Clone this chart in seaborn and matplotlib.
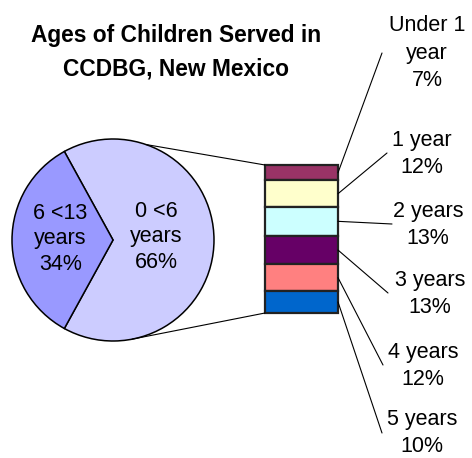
import matplotlib
matplotlib.use("Agg")
import numpy as np
import matplotlib.pyplot as plt
import seaborn as sns
from matplotlib.patches import ConnectionPatch

# --- datos ---
pie_labels = ["0 <6\nyears", "6 <13\nyears"]
pie_values = [66, 34]
pie_colors = ["#CCCCFF", "#9999FF"]

bar_labels = ["Under 1\nyear", "1 year", "2 years", "3 years", "4 years", "5 years"]
bar_values = [7, 12, 13, 13, 12, 10]
bar_colors = ["#993366", "#FFFFCC", "#CCFFFF", "#660066", "#FF8080", "#0066CC"]

titulo = "Ages of Children Served in\nCCDBG, New Mexico"

sns.set_theme(style="white")
plt.rcParams["font.family"] = ["Liberation Sans", "DejaVu Sans"]

W, H = 472, 458
fig = plt.figure(figsize=(W / 100, H / 100), dpi=100)

def px_axes(x0, y_top, w, h):
    # posicion en pixeles (y desde arriba) -> fracciones de figura
    return fig.add_axes([x0 / W, (H - y_top - h) / H, w / W, h / H])

# --- pastel ---
ax_pie = px_axes(12, 139, 202, 202)
other_angle = 360 * pie_values[1] / sum(pie_values)
start = -(360 - other_angle) / 2
wedges, _ = ax_pie.pie(pie_values, colors=pie_colors, startangle=start,
                       radius=1, wedgeprops=dict(edgecolor="black", linewidth=1.1))
ax_pie.set_xlim(-1, 1)
ax_pie.set_ylim(-1, 1)
ax_pie.set_aspect("equal")
ax_pie.axis("off")

pct = [f"{v}%" for v in pie_values]
ax_pie.text(0.43, 0.03, f"{pie_labels[0]}\n{pct[0]}", ha="center", va="center",
            fontsize=15.5, linespacing=1.3, color="black")
ax_pie.text(-0.52, 0.01, f"{pie_labels[1]}\n{pct[1]}", ha="center", va="center",
            fontsize=15.5, linespacing=1.3, color="black")

# --- barra apilada ---
ax_bar = px_axes(265, 165, 73, 148)
total = sum(bar_values)
bottoms = np.concatenate([[0], np.cumsum(bar_values[::-1])[:-1]])[::-1]
for val, bot, col in zip(bar_values, bottoms, bar_colors):
    ax_bar.bar(0, val, bottom=bot, width=1, color=col, edgecolor="#222222",
               linewidth=1.6, clip_on=False)
ax_bar.set_xlim(-0.5, 0.5)
ax_bar.set_ylim(0, total)
ax_bar.axis("off")

# lineas de union pastel -> barra
for ang, yb in [(71, total), (-79, 0)]:
    a = np.deg2rad(ang)
    con = ConnectionPatch(xyA=(np.cos(a), np.sin(a)), coordsA=ax_pie.transData,
                          xyB=(-0.5, yb), coordsB=ax_bar.transData,
                          color="black", linewidth=0.8)
    fig.add_artist(con)

# etiquetas de la barra con lineas guia
fin_linea = [(382, 405), (387, 305), (392, 234), (388, 165), (383, 93), (382, 25)]
pos_texto = [(427, 405), (422, 304), (428, 233), (430, 164), (423, 92), (422, 25)]
for lab, val, bot, p_end, p_txt in zip(bar_labels, bar_values, bottoms, fin_linea, pos_texto):
    con = ConnectionPatch(xyA=(0.5, bot + val / 2), coordsA=ax_bar.transData,
                          xyB=p_end, coordsB="figure pixels",
                          color="black", linewidth=0.8)
    fig.add_artist(con)
    fig.text(p_txt[0] / W, p_txt[1] / H, f"{lab}\n{val}%", ha="center", va="center",
             fontsize=15.5, linespacing=1.38, color="black")

fig.text(176 / W, 406 / H, titulo, ha="center", va="center", fontsize=16.4,
         fontweight="bold", linespacing=1.58, color="black")

fig.savefig("out.png", dpi=100)
